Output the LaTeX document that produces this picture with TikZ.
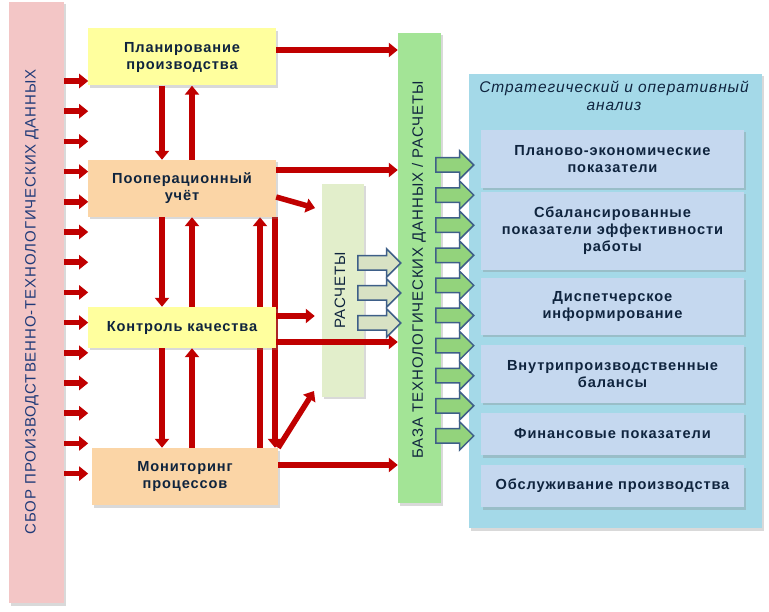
\documentclass[tikz,border=0pt]{standalone}
\usepackage{fontspec}
\setmainfont{Liberation Sans}
\newfontfamily\spacedfont[LetterSpace=6]{Liberation Sans}
\usepackage{tikz}
\usetikzlibrary{arrows.meta, positioning, backgrounds, shapes.arrows, shadows}
\definecolor{sborpink}{HTML}{F3C6C6}
\definecolor{planyellow}{HTML}{FFFF9E}
\definecolor{acctorange}{HTML}{FBD5A6}
\definecolor{calcgreen}{HTML}{E2EECB}
\definecolor{basegreen}{HTML}{A3E496}
\definecolor{panelblue}{HTML}{A4D9E8}
\definecolor{reportblue}{HTML}{C5D8EF}
\definecolor{arrowred}{HTML}{C00000}
\definecolor{textnavy}{HTML}{0F243E}
\definecolor{sbortext}{HTML}{1F3A78}
\definecolor{edgeblue}{HTML}{3E5F88}
\definecolor{feedgreen}{HTML}{93D37C}
\definecolor{calcarrow}{HTML}{D8E2C4}

\begin{document}
\begin{tikzpicture}[x=1pt, y=-1pt,
    shade/.style={drop shadow={shadow xshift=2pt, shadow yshift=-2.5pt, opacity=0.3}},
    unit/.style={shade, fill=#1, minimum width=188pt, minimum height=57pt, align=center,
      text=textnavy, font=\spacedfont\bfseries\fontsize{14.6}{17}\selectfont},
    report/.style={shade, fill=reportblue, minimum width=263pt, align=center,
      text=textnavy, font=\spacedfont\bfseries\fontsize{14.6}{17}\selectfont},
    vtext/.style={rotate=90, text=#1, font=\spacedfont\fontsize{15}{18}\selectfont},
    redarr/.style={draw=arrowred, line width=5.5pt, -{Triangle[length=9pt, width=14pt]}},
    blockarr/.style={single arrow, fill=#1, draw=edgeblue, line width=1.5pt,
      inner xsep=0pt, inner ysep=6.5pt, single arrow head extend=7pt, anchor=tail}]
  \useasboundingbox (0,0) rectangle (769,612);

  \node[shade, fill=sborpink, minimum width=55pt, minimum height=601pt] (sbor) at (36.5,302.5) {};
  \node[vtext=sbortext] (sbortxt) at (32,302) {СБОР ПРОИЗВОДСТВЕННО-ТЕХНОЛОГИЧЕСКИХ ДАННЫХ};

  \node[shade, fill=calcgreen, minimum width=42pt, minimum height=213pt] (calc) at (343,290.5) {};
  \node[vtext=textnavy] (calctxt) at (340,290.5) {РАСЧЕТЫ};

  \node[shade, fill=basegreen, minimum width=43pt, minimum height=470pt] (base) at (419.5,268) {};
  \node[vtext=textnavy] (basetxt) at (419,270) {БАЗА ТЕХНОЛОГИЧЕСКИХ ДАННЫХ / РАСЧЕТЫ};

  \node[shade, fill=panelblue, minimum width=293pt, minimum height=454pt] (panel) at (615.5,301) {};
  \node[align=center, text=textnavy, font=\spacedfont\itshape\fontsize{15.5}{17.5}\selectfont] (title)
    at (614,96) {Стратегический и оперативный\\анализ};

  \node[report, minimum height=58pt] (r1) at (612.5,159) {Планово-экономические\\показатели};
  \node[report, minimum height=78pt] (r2) at (612.5,231) {Сбалансированные\\показатели эффективности\\работы};
  \node[report, minimum height=57pt] (r3) at (612.5,306.5) {Диспетчерское\\информирование};
  \node[report, minimum height=58pt] (r4) at (612.5,374) {Внутрипроизводственные\\балансы};
  \node[report, minimum height=42pt] (r5) at (612.5,434) {Финансовые показатели};
  \node[report, minimum height=42pt] (r6) at (612.5,486) {Обслуживание производства};

  \node[unit=planyellow] (plan) at (182,57) {Планирование\\производства};
  \node[unit=acctorange] (acct) at (182,188.5) {Пооперационный\\учёт};
  \node[unit=planyellow, minimum height=41pt] (qual) at (182,327.5) {Контроль качества};
  \node[unit=acctorange, minimum width=186pt] (monit) at (185,476.5) {Мониторинг\\процессов};

  \foreach \i [evaluate=\i as \Y using 81+30.2*\i] in {0,...,13}
    \draw[redarr] (sbor.east |- 0,\Y) -- ++(24,0);

  \draw[redarr] (plan.south -| 162,0) -- (acct.north -| 162,0);
  \draw[redarr] (acct.north -| 192,0) -- (plan.south -| 192,0);
  \draw[redarr] (acct.south -| 162,0) -- (qual.north -| 162,0);
  \draw[redarr] (qual.north -| 192,0) -- (acct.south -| 192,0);
  \draw[redarr] (qual.south -| 162,0) -- (monit.north -| 162,0);
  \draw[redarr] (monit.north -| 192,0) -- (qual.south -| 192,0);
  \begin{scope}[on background layer]
    \draw[redarr] (monit.north -| 260,0) -- (acct.south -| 260,0);
    \draw[redarr] (acct.south -| 275,0) -- (monit.north -| 275,0);
  \end{scope}

  \draw[redarr] (plan.east |- 0,50) -- (base.west |- 0,50);
  \draw[redarr] (acct.east |- 0,170) -- (base.west |- 0,170);
  \draw[redarr, shorten >=7pt] (acct.east |- 0,197) -- (calc.west |- 0,210);
  \draw[redarr, shorten >=7pt] (qual.east |- 0,316) -- (calc.west |- 0,316);
  \draw[redarr] (qual.east |- 0,342) -- (base.west |- 0,342);
  \draw[redarr] (monit.east |- 0,465) -- (base.west |- 0,465);
  \coordinate (calcin) at (314,391);
  \draw[redarr] (monit.north east) -- (calcin);

  \foreach \Y [count=\k] in {263,293,323}
    \node[blockarr=calcarrow, minimum height=43pt] (c\k) at (357,\Y) {};
  \foreach \i [evaluate=\i as \Y using 165+30.1*\i] in {0,...,9}
    \node[blockarr=feedgreen, minimum height=38pt] (g\i) at (435,\Y) {};
\end{tikzpicture}
\end{document}
